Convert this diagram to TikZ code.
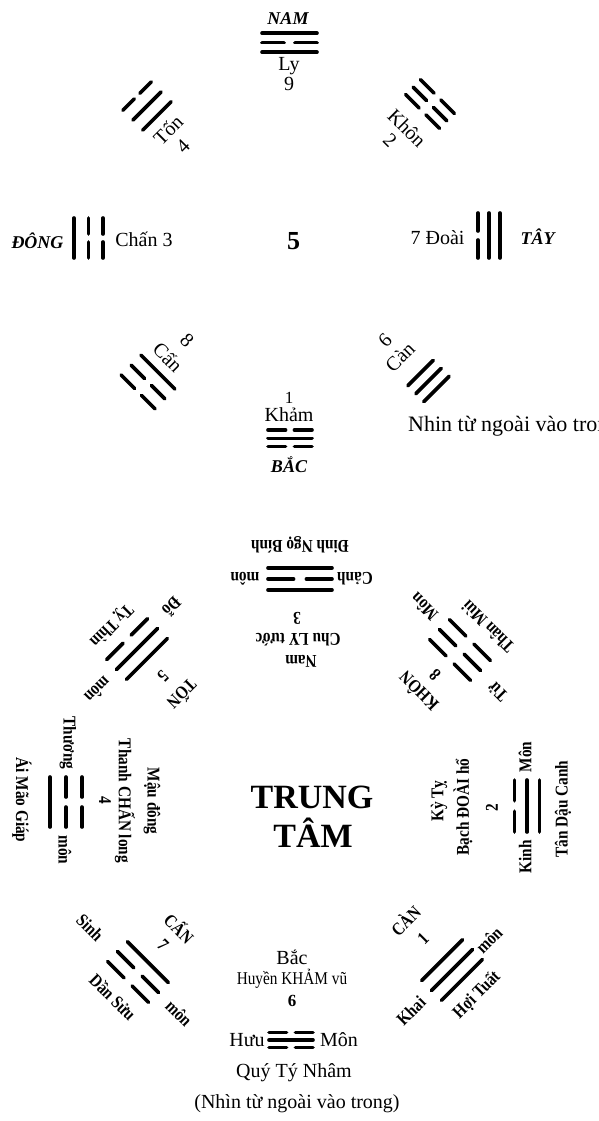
\documentclass[tikz,border=0pt]{standalone}
\usepackage{fontspec}
\setmainfont{Liberation Serif}
\newfontfamily\condf[FakeStretch=0.85]{Liberation Serif}
\newcommand\trline[3]{%
  \if#3S\draw[trl] (-#1/2,#2) -- (#1/2,#2);%
  \else\draw[trl] (-#1/2,#2) -- (-#1*0.1,#2) (#1*0.1,#2) -- (#1/2,#2);\fi}
\tikzset{
  trl/.style={line width=3.6pt, line cap=round},
  pics/tri/.style args={#1/#2/#3/#4/#5}{code={%
    \trline{#1}{-#2}{#3}\trline{#1}{0}{#4}\trline{#1}{#2}{#5}}},
  upt/.style={inner sep=0pt, font=\fontsize{20}{22}\selectfont},
  dirt/.style={inner sep=0pt, font=\bfseries\itshape\fontsize{18}{20}\selectfont},
  lot/.style={inner sep=0pt, font=\condf\bfseries\fontsize{18}{20}\selectfont},
  bott/.style={inner sep=0pt, font=\fontsize{20}{22}\selectfont},
  bigt/.style={inner sep=0pt, font=\bfseries\fontsize{34}{36}\selectfont},
}
\begin{document}
\begin{tikzpicture}[x=1pt,y=-1pt]
\useasboundingbox (0,0) rectangle (599,1121);
\fill[white] (0,0) rectangle (599,1121);
\clip (0,0) rectangle (599,1121);
% ===== upper diagram =====
\node[dirt] (nam) at (288,19) {NAM};
\pic at (289.5,42.7) {tri=55/9.5/S/B/S};
\node[upt] (ly) at (289,66) {Ly};
\node[upt] (n9) at (289,84) {9};
\pic[rotate=45] at (147,106) {tri=40/14/B/S/S};
\node[upt,rotate=45] (tonu) at (168,130) {Tốn};
\node[upt,rotate=45] (n4u) at (183,146) {4};
\pic[rotate=-45] at (430,104) {tri=48/10.5/B/B/B};
\node[upt,rotate=-45] (khonu) at (407,128) {Khôn};
\node[upt,rotate=-45] (n2u) at (390,140) {2};
\node[dirt] (dong) at (37.5,240.5) {ĐÔNG};
\pic[rotate=90] at (88.5,238) {tri=40/14.5/S/B/B};
\node[upt] (chan) at (144,239) {Chấn 3};
\node[upt,font=\bfseries\fontsize{26}{28}\selectfont] (n5u) at (293.5,241) {5};
\node[upt] (doai) at (437.5,238) {7 Đoài};
\pic[rotate=90] at (489,235.5) {tri=45/11/B/S/S};
\node[dirt] (tay) at (537.5,237) {TÂY};
\pic[rotate=-45] at (148,382) {tri=48/14/S/B/B};
\node[upt,rotate=-45] (canu8) at (168,357) {Cấn};
\node[upt,rotate=-45] (n8u) at (187,340) {8};
\pic[rotate=45] at (428.5,381) {tri=36/11.3/S/S/S};
\node[upt,rotate=45] (canu6) at (400,357) {Càn};
\node[upt,rotate=45] (n6u) at (385,340) {6};
\node[upt,anchor=west,font=\fontsize{22}{24}\selectfont] (nhin) at (408,426) {Nhin từ ngoài vào trong};
\node[upt,font=\fontsize{17}{19}\selectfont] (n1u) at (289,398) {1};
\node[upt] (kham) at (289,415) {Khảm};
\pic at (290,438.3) {tri=44/8.3/B/S/B};
\node[dirt] (bacu) at (289,465) {BẮC};
% ===== lower diagram =====
\node[bigt] (trung) at (312,797) {TRUNG};
\node[bigt] (tam) at (313,833) {TÂM};
% south (top)
\node[lot,rotate=180] (dnb) at (300,545) {Đinh Ngọ Bính};
\pic at (300,579) {tri=64/11/S/B/S};
\node[lot,rotate=180] (canh) at (355,579) {Cảnh};
\node[lot,rotate=180] (mon1) at (245,579) {môn};
\node[lot,rotate=180] (n3) at (297,618) {3};
\node[lot,rotate=180] (chu) at (298,640) {Chu LY tước};
\node[lot,rotate=180] (namb) at (301,661) {Nam};
% east (left)
\node[lot,rotate=-90] (amg) at (22,800) {Ái Mão Giáp};
\node[lot,rotate=-90] (thuong) at (68,743) {Thương};
\pic[rotate=90] at (66,802) {tri=50/16/S/B/B};
\node[lot,rotate=-90] (mon2) at (65,850) {môn};
\node[lot,rotate=-90] (n4) at (105,800) {4};
\node[lot,rotate=-90] (tcl) at (125,801) {Thanh CHẤN long};
\node[lot,rotate=-90] (mdong) at (152,801) {Mậu đông};
% west (right)
\node[lot,rotate=90] (kyty) at (439,801) {Kỳ Tỵ};
\node[lot,rotate=90] (bdh) at (463,807) {Bạch ĐOÀI hổ};
\node[lot,rotate=90] (n2) at (492,808) {2};
\node[lot,rotate=90] (mon3) at (525,757) {Môn};
\pic[rotate=90] at (527,806) {tri=52/12.5/B/S/S};
\node[lot,rotate=90] (kinh) at (525,857) {Kinh};
\node[lot,rotate=90] (tdc) at (563,809) {Tân Dậu Canh};
% north (bottom)
\node[bott] (bac) at (292,957) {Bắc};
\node[lot,font=\condf\fontsize{18}{20}\selectfont] (hkv) at (292,979) {Huyền KHẢM vũ};
\node[bott,font=\bfseries\fontsize{17}{19}\selectfont] (n6) at (292,1001) {6};
\node[bott] (huu) at (247,1040) {Hưu};
\pic at (291,1040) {tri=44/7.5/B/S/B};
\node[bott] (mon4) at (339,1040) {Môn};
\node[bott] (qtn) at (294,1073) {Quý Tý Nhâm};
\node[bott] (capt) at (297,1104) {(Nhìn từ ngoài vào trong)};
% north-west
\pic[rotate=45] at (137,649) {tri=58/14/B/S/S};
\node[lot,rotate=-135] (tythin) at (111,625) {Tỵ Thìn};
\node[lot,rotate=-135] (dox) at (172,607) {Đỗ};
\node[lot,rotate=-135] (mon5) at (98,690) {môn};
\node[lot,rotate=-135] (n5) at (163,676) {5};
\node[lot,rotate=-135] (ton) at (183,695) {TỐN};
% north-east
\pic[rotate=-45] at (460,650) {tri=58/14/B/B/B};
\node[lot,rotate=135] (thanmui) at (488,627) {Thân Mùi};
\node[lot,rotate=135] (tu) at (498,692) {Tử};
\node[lot,rotate=135] (mon6) at (424,607) {Môn};
\node[lot,rotate=135] (n8) at (435,675) {8};
\node[lot,rotate=135] (khon) at (418,692) {KHÔN};
% south-west
\pic[rotate=-45] at (138,972) {tri=58/14/S/B/B};
\node[lot,rotate=-45] (dansuu) at (113,997) {Dần Sửu};
\node[lot,rotate=-45] (sinh) at (90,928) {Sinh};
\node[lot,rotate=-45] (mon7) at (179,1013) {môn};
\node[lot,rotate=-45] (n7) at (163,945) {7};
\node[lot,rotate=-45] (can7) at (180,928) {CẤN};
% south-east
\pic[rotate=45] at (452,970) {tri=58/14/S/S/S};
\node[lot,rotate=45] (hoituat) at (477,995) {Hợi Tuất};
\node[lot,rotate=45] (khai) at (411,1011) {Khai};
\node[lot,rotate=45] (mon8) at (489,940) {môn};
\node[lot,rotate=45] (n1) at (423,939) {1};
\node[lot,rotate=45] (can1) at (405,920) {CÀN};
\end{tikzpicture}
\end{document}
